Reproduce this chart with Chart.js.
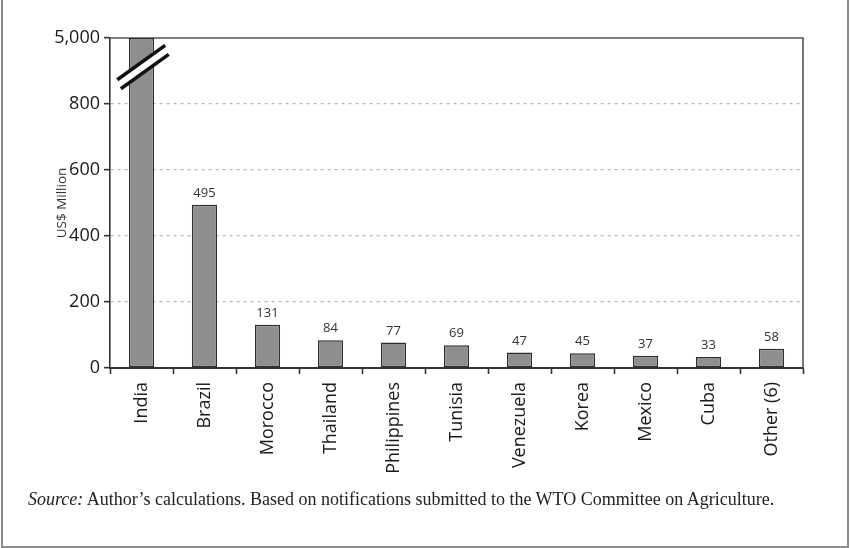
<!DOCTYPE html>
<html>
<head>
<meta charset="utf-8">
<title>Export subsidy commitments</title>
<script src="https://cdn.jsdelivr.net/npm/chart.js@4.4.1/dist/chart.umd.min.js"></script>
<style>
  html, body { margin: 0; padding: 0; background: #fff; }
  #wrap { position: relative; width: 850px; height: 548px; overflow: hidden; }
  #frame { position: absolute; left: 1px; top: -4px; width: 848px; height: 552px; border: 2px solid #8c8c8c; box-sizing: border-box; }
  #chart { position: absolute; left: 0; top: 0; }
  #note { position: absolute; left: 28px; top: 489px; font: 18px "Liberation Serif", "DejaVu Serif", serif; color: #222; line-height: 20px; white-space: nowrap; }
</style>
</head>
<body>
<div id="wrap">
  <div id="frame"></div>
  <canvas id="chart" width="850" height="548"></canvas>
  <div id="note"><i>Source:</i> Author’s calculations. Based on notifications submitted to the WTO Committee on Agriculture.</div>
</div>
<script>
// Data
const countries = ['India', 'Brazil', 'Morocco', 'Thailand', 'Philippines', 'Tunisia', 'Venezuela', 'Korea', 'Mexico', 'Cuba', 'Other (6)'];
const values = [5000, 495, 131, 84, 77, 69, 47, 45, 37, 33, 58];
const yTicks = [0, 200, 400, 600, 800, 1000];
const yTickLabels = ['0', '200', '400', '600', '800', '5,000'];

const Y_MAX = 1000;     // top of the broken axis
const BREAK_AT = 912;   // where the break marks cross the India bar

const barFill = '#8e8e90';
const barEdge = '#2e2e2e';
const axisColor = '#333333';

/**
 * Top and right edges of the plot box
 */
const framePlugin = {
    id: 'plotFrame',
    beforeDatasetsDraw(chart) {
        const { ctx, chartArea: a } = chart;
        ctx.save();
        ctx.strokeStyle = '#555';
        ctx.lineWidth = 1.6;
        ctx.beginPath();
        ctx.moveTo(a.left, a.top);
        ctx.lineTo(a.right, a.top);
        ctx.lineTo(a.right, a.bottom);
        ctx.stroke();
        ctx.restore();
    }
};

/**
 * Value labels above bars (skipped for the broken bar)
 */
const labelPlugin = {
    id: 'valueLabels',
    afterDatasetsDraw(chart) {
        const { ctx } = chart;
        const meta = chart.getDatasetMeta(0);
        ctx.save();
        ctx.font = '13px "Open Sans", sans-serif';
        ctx.fillStyle = '#333';
        ctx.textAlign = 'center';
        ctx.textBaseline = 'bottom';
        meta.data.forEach((bar, i) => {
            if (values[i] > Y_MAX) return;
            ctx.fillText(String(values[i]), bar.x, bar.y - 5);
        });
        ctx.restore();
    }
};

/**
 * Double slash break marks across the India bar
 */
const breakPlugin = {
    id: 'axisBreak',
    afterDatasetsDraw(chart) {
        const { ctx, scales: { y } } = chart;
        const bar = chart.getDatasetMeta(0).data[0];
        const cx = bar.x + 1.5;
        const cy = y.getPixelForValue(BREAK_AT);
        const hx = bar.width * 0.95;
        const slope = 0.72;
        const off = [[-1.8, -4.5], [1.8, 4.5]];

        const ends = off.map(([dx, dy]) => [
            [cx + dx - hx, cy + dy + hx * slope],
            [cx + dx + hx, cy + dy - hx * slope]
        ]);

        ctx.save();
        ctx.fillStyle = '#fff';
        ctx.beginPath();
        ctx.moveTo(...ends[0][0]);
        ctx.lineTo(...ends[0][1]);
        ctx.lineTo(...ends[1][1]);
        ctx.lineTo(...ends[1][0]);
        ctx.closePath();
        ctx.fill();

        ctx.strokeStyle = '#111';
        ctx.lineWidth = 3.5;
        ends.forEach(([p, q]) => {
            ctx.beginPath();
            ctx.moveTo(...p);
            ctx.lineTo(...q);
            ctx.stroke();
        });
        ctx.restore();
    }
};

const ctx = document.getElementById('chart').getContext('2d');
new Chart(ctx, {
    type: 'bar',
    data: {
        labels: countries,
        datasets: [{
            data: values.map(v => Math.min(v, Y_MAX)),
            backgroundColor: barFill,
            borderColor: barEdge,
            borderWidth: 1.5,
            borderSkipped: false,
            barPercentage: 0.4,
            categoryPercentage: 1.0
        }]
    },
    options: {
        responsive: false,
        animation: false,
        devicePixelRatio: 1,
        layout: { padding: { left: 0, top: 38, right: 47, bottom: 0 } },
        plugins: {
            legend: { display: false },
            tooltip: { enabled: false }
        },
        scales: {
            x: {
                afterFit: s => { s.height = 180; },
                grid: {
                    offset: true,
                    drawOnChartArea: false,
                    drawTicks: true,
                    tickLength: 6,
                    tickColor: axisColor,
                    tickWidth: 1.6
                },
                border: { display: true, color: axisColor, width: 2 },
                ticks: {
                    minRotation: 90,
                    maxRotation: 90,
                    padding: 8,
                    color: '#1a1a1a',
                    font: { family: '"Open Sans", sans-serif', size: 18 }
                }
            },
            y: {
                min: 0,
                max: Y_MAX,
                afterFit: s => { s.width = 110; },
                afterBuildTicks: s => { s.ticks = yTicks.map(v => ({ value: v })); },
                grid: {
                    color: c => (c.tick && (c.tick.value === 0 || c.tick.value === Y_MAX)) ? 'rgba(0,0,0,0)' : '#b8b8b8',
                    lineWidth: 1.3,
                    drawTicks: true,
                    tickLength: 6,
                    tickColor: axisColor,
                    tickWidth: 1.6,
                    tickBorderDash: []
                },
                border: { display: true, color: axisColor, width: 1.6, dash: [3, 4] },
                ticks: {
                    padding: 4,
                    color: '#1a1a1a',
                    font: { family: '"Open Sans", sans-serif', size: 18 },
                    callback: v => yTickLabels[yTicks.indexOf(v)]
                },
                title: {
                    display: true,
                    text: 'US$ Million',
                    color: '#333',
                    font: { family: '"Open Sans", sans-serif', size: 13.5 },
                    padding: { top: 54, bottom: 0 }
                }
            }
        }
    },
    plugins: [framePlugin, labelPlugin, breakPlugin]
});
</script>
</body>
</html>
